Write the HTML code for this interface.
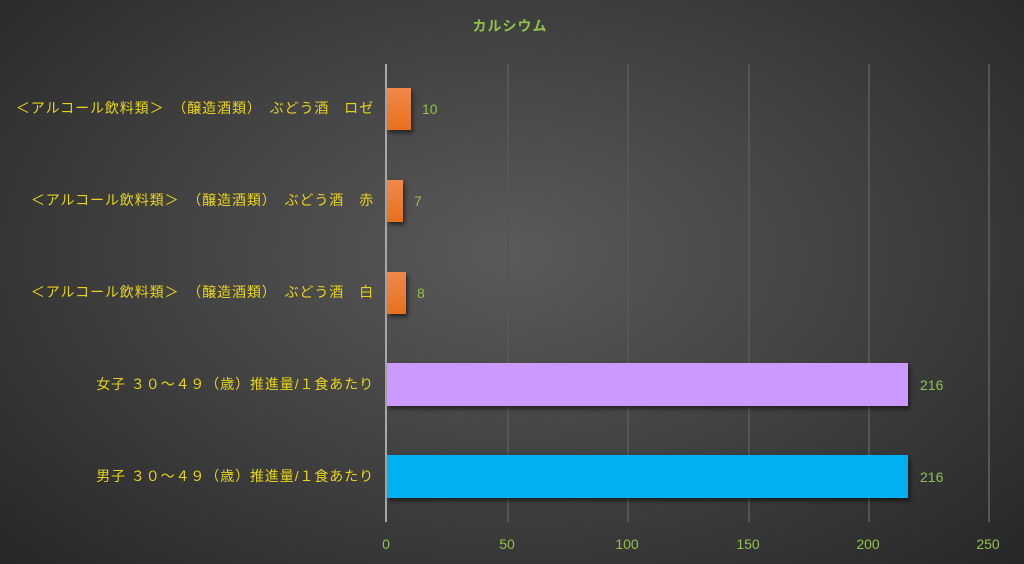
<!DOCTYPE html><html><head><meta charset="utf-8"><style>
body{margin:0;width:1024px;height:564px;overflow:hidden;background:radial-gradient(ellipse 70% 80% at 50% 45%,#5a5a5a 0%,#3e3e3e 55%,#262626 100%);font-family:"Liberation Sans","Noto Sans CJK JP",sans-serif;position:relative}
.g{position:absolute;top:64px;height:458px;width:2px;background:#555}
.b{position:absolute;left:387px;box-shadow:2px 3px 4px rgba(0,0,0,.5)}
.o{background:linear-gradient(#f0894a,#e8701f)}
.l{position:absolute;right:650px;color:#e8d419;font-size:14px;letter-spacing:0.9px;white-space:nowrap;transform:translateY(-50%)}
.v{position:absolute;color:#8fc24a;font-size:14px;transform:translateY(-50%)}
.t{position:absolute;top:536px;color:#8fc24a;font-size:14px;transform:translateX(-50%)}
</style></head><body>
<div style="position:absolute;top:16px;left:0;width:1024px;text-align:center;color:#8fc24a;font-weight:bold;font-size:14px;letter-spacing:1px"><span style="position:relative;left:-2px">カルシウム</span></div>
<div class="g" style="left:507px"></div><div class="g" style="left:627px"></div><div class="g" style="left:748px"></div><div class="g" style="left:868px"></div><div class="g" style="left:988px"></div>
<div class="g" style="left:385px;background:#a8a8a8"></div>
<div class="b o" style="top:88px;height:42px;width:24px"></div>
<div class="b o" style="top:180px;height:42px;width:16px"></div>
<div class="b o" style="top:272px;height:42px;width:19px"></div>
<div class="b" style="top:363px;height:43px;width:521px;background:#cc99ff"></div>
<div class="b" style="top:455px;height:43px;width:521px;background:#00b0f0"></div>
<div class="l" style="top:108px">＜アルコール飲料類＞　（醸造酒類）　ぶどう酒　ロゼ</div>
<div class="l" style="top:200px">＜アルコール飲料類＞　（醸造酒類）　ぶどう酒　赤</div>
<div class="l" style="top:292px">＜アルコール飲料類＞　（醸造酒類）　ぶどう酒　白</div>
<div class="l" style="top:384px">女子 ３０～４９（歳）推進量/１食あたり</div>
<div class="l" style="top:476px">男子 ３０～４９（歳）推進量/１食あたり</div>
<div class="v" style="left:422px;top:109px">10</div>
<div class="v" style="left:414px;top:201px">7</div>
<div class="v" style="left:417px;top:293px">8</div>
<div class="v" style="left:920px;top:385px">216</div>
<div class="v" style="left:920px;top:477px">216</div>
<div class="t" style="left:386px">0</div><div class="t" style="left:507px">50</div><div class="t" style="left:627px">100</div><div class="t" style="left:748px">150</div><div class="t" style="left:868px">200</div><div class="t" style="left:988px">250</div>
</body></html>
